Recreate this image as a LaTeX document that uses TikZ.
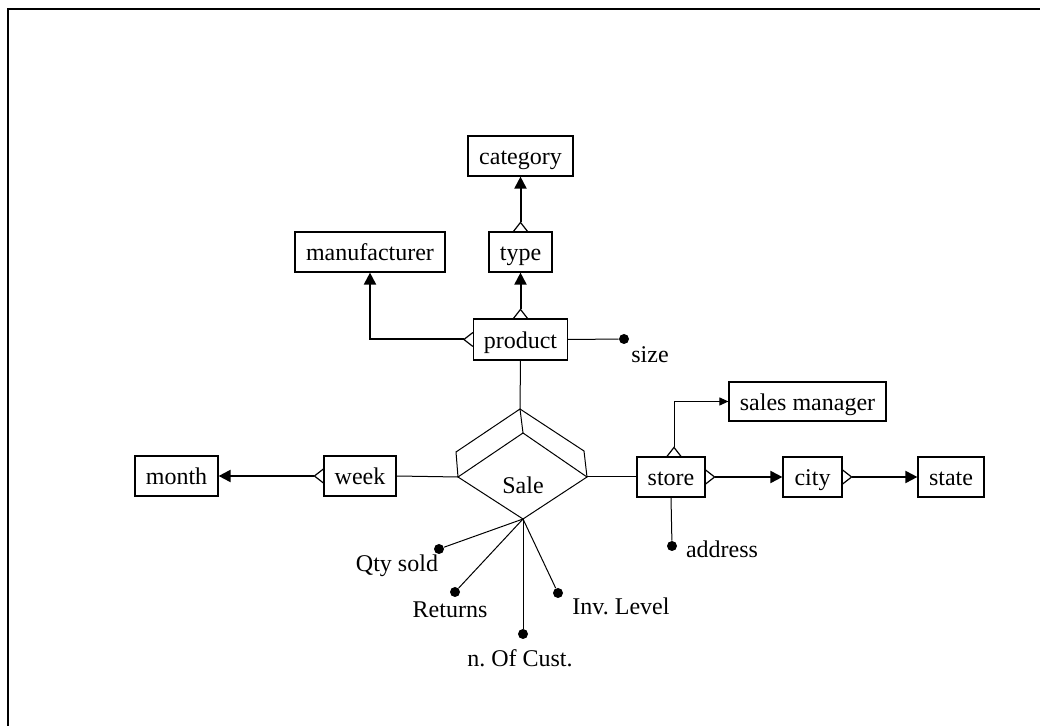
\documentclass[tikz,border=0pt]{standalone}
\usepackage{fontspec}
\setmainfont{Liberation Serif}
\usetikzlibrary{arrows.meta,calc}
\frenchspacing
\begin{document}
\begin{tikzpicture}[x=0.5pt,y=-0.5pt,
  ent/.style={draw, line width=0.6pt, inner sep=0pt, minimum height=20pt,
              text height=10pt, text depth=1pt,
              font=\fontsize{12}{14}\selectfont},
  lbl/.style={inner sep=0pt, font=\fontsize{12}{14}\selectfont},
  rel/.style={line width=1pt, -{Triangle[length=6pt,width=6pt]}},
  thinrel/.style={line width=0.5pt, -{Triangle[length=4.5pt,width=4pt]}},
  plain/.style={line width=0.5pt},
  foot/.style={line width=0.6pt},
  dot/.style={circle, fill, inner sep=0pt, minimum size=5pt},
  frame/.style={line width=1pt}]
\useasboundingbox (0,0) rectangle (1040,726);

% page frame (top and left edges)
\coordinate (fr-top) at (1040,9);
\coordinate (fr-corner) at (8,9);
\coordinate (fr-bottom) at (8,726);
\draw[frame] (fr-top) -- (fr-corner) -- (fr-bottom);

% entities
\node[ent, minimum width=52.5pt] (category) at (520.5,156) {category};
\node[ent, minimum width=75pt] (manufacturer) at (370,252) {manufacturer};
\node[ent, minimum width=31.5pt] (type) at (520.5,252) {type};
\node[ent, minimum width=47pt, minimum height=20.5pt] (product) at (520.5,339.5) {product};
\node[ent, minimum width=41.5pt] (month) at (176.5,476) {month};
\node[ent, minimum width=36pt] (week) at (360,476) {week};
\node[ent, minimum width=34pt] (store) at (671,477) {store};
\node[ent, minimum width=29.5pt] (city) at (812.5,477) {city};
\node[ent, minimum width=33pt] (state) at (951,477) {state};
\node[ent, minimum width=78.5pt, minimum height=19.5pt] (salesmgr) at (807.5,401.5) {sales manager};

% relationship diamond (drawn in perspective)
\coordinate (d-top) at (520,409);
\coordinate (d-ftop) at (523,433);
\coordinate (d-lo) at (456,452);
\coordinate (d-left) at (458,477);
\coordinate (d-ro) at (584,451);
\coordinate (d-right) at (587,477);
\coordinate (d-bot) at (523,519);
\draw[plain] (d-left) -- (d-ftop) -- (d-right) -- (d-bot) -- cycle;
\draw[plain] (d-left) -- (d-lo) -- (d-top) -- (d-ro) -- (d-right);
\draw[plain] (d-top) -- (d-ftop);
\node[lbl] (sale) at (523,485) {Sale};

% hierarchy links with crow's feet
\coordinate (cf-tc) at ($(type.north)+(0,-9)$);
\draw[foot] ($(type.north)+(-7,0)$) -- (cf-tc) -- ($(type.north)+(7,0)$);
\draw[rel] (cf-tc) -- (category.south);

\coordinate (cf-pt) at ($(product.north)+(0,-9)$);
\draw[foot] ($(product.north)+(-7,0)$) -- (cf-pt) -- ($(product.north)+(7,0)$);
\draw[rel] (cf-pt) -- (type.south);

\coordinate (cf-pm) at ($(product.west)+(-9,0)$);
\draw[foot] ($(product.west)+(0,-7)$) -- (cf-pm) -- ($(product.west)+(0,7)$);
\draw[rel] (cf-pm) -| (manufacturer.south);

\coordinate (cf-wm) at ($(week.west)+(-9,0)$);
\draw[foot] ($(week.west)+(0,-7)$) -- (cf-wm) -- ($(week.west)+(0,7)$);
\draw[rel] (cf-wm) -- (month.east);

\coordinate (cf-sc) at ($(store.east)+(9,0)$);
\draw[foot] ($(store.east)+(0,-7)$) -- (cf-sc) -- ($(store.east)+(0,7)$);
\draw[rel] (cf-sc) -- (city.west);

\coordinate (cf-cs) at ($(city.east)+(9,0)$);
\draw[foot] ($(city.east)+(0,-7)$) -- (cf-cs) -- ($(city.east)+(0,7)$);
\draw[rel] (cf-cs) -- (state.west);

\coordinate (st-top) at ($(store.north)+(3,0)$);
\coordinate (cf-ss) at ($(st-top)+(0,-9)$);
\draw[foot] ($(st-top)+(-7,0)$) -- (cf-ss) -- ($(st-top)+(7,0)$);
\draw[thinrel] (cf-ss) |- (salesmgr.west);

% links to the relationship
\draw[plain] (product.south) -- (d-top);
\draw[plain] (week.east) -- (d-left);
\draw[plain] (store.west) -- (d-right);

% attributes
\node[dot] (size) at (624,339) {};
\node[lbl] (size-l) at (650,355) {size};
\draw[plain] (product.east) -- (size);

\node[dot] (addr) at (672,546) {};
\node[lbl] (addr-l) at (722,549) {address};
\draw[plain] (store.south) -- (addr);

\node[dot] (qty) at (439,549) {};
\node[lbl] (qty-l) at (397,566) {Qty sold};
\node[dot] (ret) at (455,592) {};
\node[lbl] (ret-l) at (450,610) {Returns};
\node[dot] (cust) at (523,634) {};
\node[lbl] (cust-l) at (520,658) {n. Of Cust.};
\node[dot] (inv) at (558,593) {};
\node[lbl] (inv-l) at (621,606) {Inv. Level};
\draw[plain] (d-bot) -- (qty);
\draw[plain] (d-bot) -- (ret);
\draw[plain] (d-bot) -- (cust);
\draw[plain] (d-bot) -- (inv);
\end{tikzpicture}
\end{document}
